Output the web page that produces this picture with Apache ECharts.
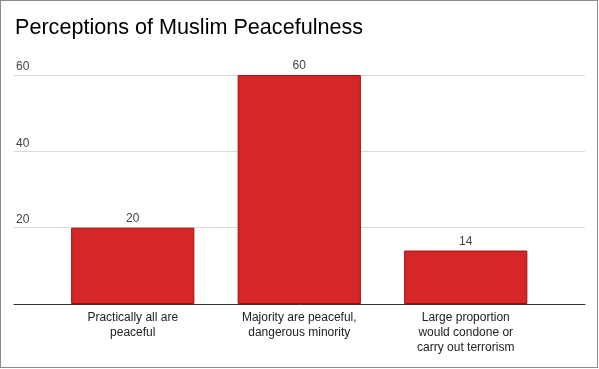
<!DOCTYPE html>
<html>
<head>
<meta charset="utf-8">
<script src="https://cdn.jsdelivr.net/npm/echarts@6/dist/echarts.min.js"></script>
<style>
html,body{margin:0;padding:0;background:#fff;}
#chart{position:absolute;left:0;top:0;width:599px;height:369px;}
#frame{position:absolute;left:0;top:0;width:596px;height:366px;border:1px solid #8a8a8a;pointer-events:none;}
</style>
</head>
<body>
<div id="chart"></div>
<div id="frame"></div>
<script>
const titleText = 'Perceptions of Muslim Peacefulness';
const categories = ['Practically all are\npeaceful', 'Majority are peaceful,\ndangerous minority', 'Large proportion\nwould condone or\ncarry out terrorism'];
const values = [20, 60, 14];
const yMin = 0, yMax = 60, yInterval = 20;

const chart = echarts.init(document.getElementById('chart'), null, {renderer: 'canvas'});
const font = 'Arial, "Liberation Sans", sans-serif';
chart.setOption({
  animation: false,
  title: {
    text: titleText, left: 15, top: 17, padding: 0,
    textStyle: {fontFamily: font, fontSize: 21.6, fontWeight: 'normal', color: '#000'}
  },
  grid: [
    {left: 14, right: 14, top: 75, bottom: 65, containLabel: false},
    {left: 49.5, right: 50, top: 75, bottom: 65, containLabel: false}
  ],
  xAxis: [
    {type: 'category', gridIndex: 0, data: [''], axisLine: {show: true, lineStyle: {color: '#333', width: 1}},
     axisTick: {show: false}, axisLabel: {show: false}, splitLine: {show: false}},
    {type: 'category', gridIndex: 1, data: categories, axisLine: {show: false}, axisTick: {show: false},
     axisLabel: {fontFamily: font, fontSize: 12, color: '#222', lineHeight: 15, margin: 6, interval: 0}}
  ],
  yAxis: [
    {type: 'value', gridIndex: 0, min: yMin, max: yMax, interval: yInterval,
     axisLine: {show: false}, axisTick: {show: false},
     axisLabel: {inside: true, margin: 2, verticalAlign: 'bottom', padding: [0, 0, 2, 0],
       fontFamily: font, fontSize: 12, color: '#444',
       formatter: v => v === 0 ? '' : String(v)},
     splitLine: {show: true, lineStyle: {color: '#d9d9d9', width: 1}}},
    {type: 'value', gridIndex: 1, min: yMin, max: yMax, interval: yInterval, show: false}
  ],
  series: [{
    type: 'bar', xAxisIndex: 1, yAxisIndex: 1, data: values, barWidth: '74%',
    itemStyle: {color: '#d62728', borderColor: '#a10c0c', borderWidth: 1},
    label: {show: true, position: 'top', distance: 3, fontFamily: font, fontSize: 12, color: '#444'}
  }]
});
</script>
</body>
</html>
